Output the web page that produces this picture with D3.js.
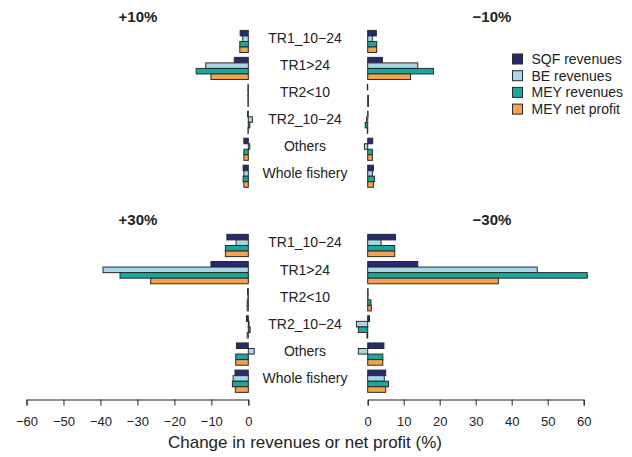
<!DOCTYPE html>
<html>
<head>
<meta charset="utf-8">
<script src="https://cdn.jsdelivr.net/npm/d3@7"></script>
<style>
  html, body { margin: 0; padding: 0; background: #fff; }
  svg { display: block; font-family: "Liberation Sans", Arial, sans-serif; }
</style>
</head>
<body>
<svg id="chart" width="632" height="457"></svg>
<script>
// Fleet segments (drawn top to bottom in every panel)
const categories = ["TR1_10\u221224", "TR1>24", "TR2<10", "TR2_10\u221224", "Others", "Whole fishery"];
const seriesNames = ["SQF revenues", "BE revenues", "MEY revenues", "MEY net profit"];
const seriesColors = ["#262a70", "#a8d8e8", "#18a89c", "#f7a24c"];

// Change (%) per scenario; one array per series, in category order
const plus10SQF    = [-2.2, -3.8, -0.1, -0.2, -1.2, -1.4];
const plus10BE     = [-1.5, -11.5, -0.1, 1.1, 0.4, -1.2];
const plus10MEY    = [-2.3, -14.1, -0.1, 0.4, -1.2, -1.4];
const plus10Profit = [-2.3, -10.1, -0.1, -0.1, -1.2, -1.2];

const minus10SQF    = [2.4, 4.1, -0.1, 0.1, 1.4, 1.6];
const minus10BE     = [1.3, 13.9, 0.0, -0.3, -0.9, 1.3];
const minus10MEY    = [2.5, 18.3, 0.2, -0.7, 1.3, 1.9];
const minus10Profit = [2.5, 11.9, 0.2, -0.1, 1.3, 1.6];

const plus30SQF    = [-5.8, -10.1, -0.2, -0.5, -3.2, -3.6];
const plus30BE     = [-3.3, -39.3, -0.1, 0.2, 1.6, -4.1];
const plus30MEY    = [-6.2, -34.7, -0.3, 0.5, -3.4, -4.3];
const plus30Profit = [-6.2, -26.4, -0.3, -0.3, -3.4, -3.5];

const minus30SQF    = [7.7, 13.9, 0.1, 0.5, 4.5, 5.0];
const minus30BE     = [3.7, 47.1, 0.1, -3.1, -2.6, 4.6];
const minus30MEY    = [7.5, 61.0, 0.9, -2.6, 4.2, 5.8];
const minus30Profit = [7.5, 36.3, 1.0, -0.2, 4.2, 5.0];

const leftTicks  = [-60, -50, -40, -30, -20, -10, 0];
const rightTicks = [0, 10, 20, 30, 40, 50, 60];
const panelTitles = ["+10%", "\u221210%", "+30%", "\u221230%"];
const axisTitle = "Change in revenues or net profit (%)";

const svg = d3.select("#chart");
const textColor = "#222";

// Horizontal scales: left panels run negative, right panels positive
const xLeft  = d3.scaleLinear().domain([-60, 0]).range([26.5, 248.3]);
const xRight = d3.scaleLinear().domain([0, 60]).range([367.7, 583.7]);

// Vertical scales for the upper and lower rows
const yTop = d3.scaleBand().domain(categories).range([28.0, 189.7]).paddingInner(0.18).paddingOuter(0.09);
const yBot = d3.scaleBand().domain(categories).range([231.9, 394.8]).paddingInner(0.18).paddingOuter(0.09);

const panels = [
  { x: xLeft,  y: yTop, title: panelTitles[0], data: [plus10SQF, plus10BE, plus10MEY, plus10Profit] },
  { x: xRight, y: yTop, title: panelTitles[1], data: [minus10SQF, minus10BE, minus10MEY, minus10Profit] },
  { x: xLeft,  y: yBot, title: panelTitles[2], data: [plus30SQF, plus30BE, plus30MEY, plus30Profit] },
  { x: xRight, y: yBot, title: panelTitles[3], data: [minus30SQF, minus30BE, minus30MEY, minus30Profit] }
];

panels.forEach(p => {
  const g = svg.append("g");
  const rows = [];
  p.data.forEach((vals, si) => {
    vals.forEach((v, ci) => rows.push({ cat: categories[ci], series: seriesNames[si], si, v }));
  });
  const sub = d3.scaleBand().domain(seriesNames).range([0, p.y.bandwidth()]);
  g.selectAll("rect").data(rows).join("rect")
    .attr("x", d => Math.min(p.x(0), p.x(d.v)))
    .attr("width", d => Math.abs(p.x(d.v) - p.x(0)))
    .attr("y", d => p.y(d.cat) + sub(d.series))
    .attr("height", sub.bandwidth())
    .attr("fill", d => seriesColors[d.si])
    .attr("stroke", "#2a2a2a")
    .attr("stroke-width", 1);

  // panel heading
  svg.append("text")
    .attr("x", p.x === xLeft ? 138 : 492)
    .attr("y", p.y === yTop ? 22 : 225)
    .attr("text-anchor", "middle")
    .attr("font-size", 15)
    .attr("font-weight", "bold")
    .attr("fill", textColor)
    .text(p.title);
});

// Category labels in the gap between the panels
[yTop, yBot].forEach(y => {
  svg.append("g").selectAll("text").data(categories).join("text")
    .attr("x", 305)
    .attr("y", d => y(d) + y.bandwidth() / 2 + 2)
    .attr("text-anchor", "middle")
    .attr("font-size", 14)
    .attr("fill", textColor)
    .text(d => d);
});

// Bottom axes
const axisY = 399.5;
function styleAxis(g) {
  g.selectAll("path, line").attr("stroke", "#222").attr("stroke-width", 1);
  g.selectAll("text").attr("font-size", 13).attr("fill", textColor)
    .attr("font-family", "Liberation Sans, Arial, sans-serif");
}
svg.append("g").attr("transform", `translate(0,${axisY})`)
  .call(d3.axisBottom(xLeft).tickValues(leftTicks).tickSize(6).tickPadding(11)
    .tickFormat(d => d < 0 ? "\u2212" + Math.abs(d) : d))
  .call(styleAxis);
svg.append("g").attr("transform", `translate(0,${axisY})`)
  .call(d3.axisBottom(xRight).tickValues(rightTicks).tickSize(6).tickPadding(11))
  .call(styleAxis);

svg.append("text")
  .attr("x", 305).attr("y", 448)
  .attr("text-anchor", "middle")
  .attr("font-size", 17)
  .attr("fill", textColor)
  .text(axisTitle);

// Legend
const legend = svg.append("g").attr("transform", "translate(512.5,59)");
seriesNames.forEach((name, i) => {
  const row = legend.append("g").attr("transform", `translate(0,${i * 16.7})`);
  row.append("rect").attr("x", 0).attr("y", -5).attr("width", 10).attr("height", 10)
    .attr("fill", seriesColors[i]).attr("stroke", "#2a2a2a").attr("stroke-width", 1);
  row.append("text").attr("x", 19).attr("y", 5)
    .attr("font-size", 14).attr("fill", textColor).text(name);
});
</script>
</body>
</html>
